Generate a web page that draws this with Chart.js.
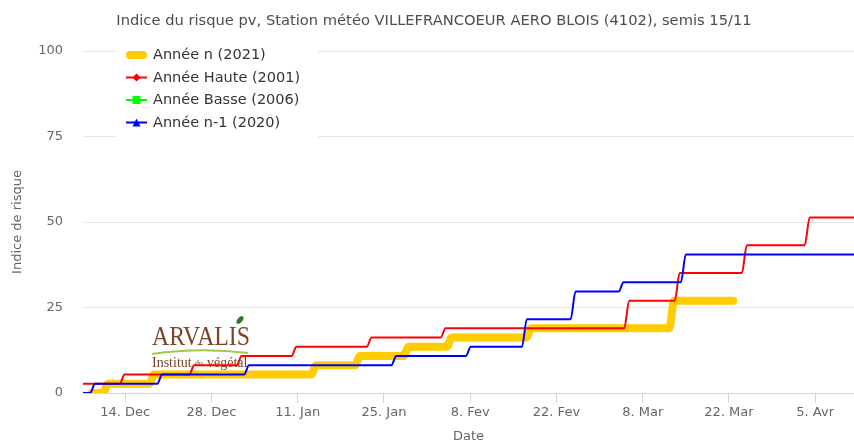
<!DOCTYPE html>
<html>
<head>
<meta charset="utf-8">
<script src="https://cdn.jsdelivr.net/npm/chart.js"></script>
<style>
  html, body { margin: 0; padding: 0; background: #fff; }
  #wrap { width: 854px; height: 442px; }
</style>
</head>
<body>
<div id="wrap"><canvas id="riskChart"></canvas></div>
<script>
// x values are days counted from 14 Dec
const tickDays = [0, 14, 28, 42, 56, 70, 84, 98, 112];
const tickLabels = ['14. Dec', '28. Dec', '11. Jan', '25. Jan', '8. Fev', '22. Fev', '8. Mar', '22. Mar', '5. Avr'];
const seriesNames = ['Année n (2021)', 'Année Haute (2001)', 'Année Basse (2006)', 'Année n-1 (2020)'];

// first entry = start day, then the day of each step; levels = value after each step
const yearNSteps = [-5.4, -3.2, 4.3, 30.6, 37.7, 45.6, 52.6, 65.5, 88.7];
const yearNLevels = [0, 2.7, 5.4, 8.1, 10.8, 13.5, 16.2, 18.9, 27];
const yearNEnd = 98.7;

const highSteps = [-7, -0.5, 10.8, 18.5, 27.4, 39.6, 51.6, 81.4, 89.6, 100.5, 110.7];
const highLevels = [2.7, 5.4, 8.1, 10.8, 13.5, 16.2, 18.9, 27, 35.1, 43.2, 51.3];
const highEnd = 119;

const lowSteps = [];
const lowLevels = [];
const lowEnd = null;

const prevSteps = [-7, -5.3, 5.6, 19.7, 43.6, 55.7, 64.8, 72.7, 80.5, 90.6];
const prevLevels = [0, 2.7, 5.4, 8.1, 10.8, 13.5, 21.6, 29.7, 32.4, 40.5];
const prevEnd = 119;

function stepPoints(steps, levels, end) {
  if (!steps.length) return [];
  const pts = [{ x: steps[0], y: levels[0] }];
  for (let i = 1; i < steps.length; i++) {
    pts.push({ x: steps[i] - 0.4, y: levels[i - 1] });
    pts.push({ x: steps[i] + 0.4, y: levels[i] });
  }
  pts.push({ x: end, y: levels[levels.length - 1] });
  return pts;
}

const FONT = 'DejaVu Sans';

const logoPlugin = {
  id: 'logo',
  beforeDatasetsDraw(chart) {
    const ctx = chart.ctx;
    ctx.save();
    // ARVALIS
    ctx.font = '27px "Liberation Serif"';
    ctx.fillStyle = '#7a4527';
    ctx.textBaseline = 'alphabetic';
    let w = ctx.measureText('ARVALIS').width;
    ctx.save();
    ctx.translate(152, 345);
    ctx.scale(98 / w, 1);
    ctx.fillText('ARVALIS', 0, 0);
    ctx.restore();
    // leaf
    ctx.fillStyle = '#2f7a2a';
    ctx.beginPath();
    ctx.ellipse(240, 320, 2.5, 4.5, 0.7, 0, Math.PI * 2);
    ctx.fill();
    // swoosh
    ctx.strokeStyle = '#a3c94a';
    ctx.lineWidth = 2;
    ctx.beginPath();
    ctx.moveTo(152, 354);
    ctx.quadraticCurveTo(200, 347, 248, 353);
    ctx.stroke();
    // Institut du végétal
    ctx.fillStyle = '#7a4527';
    ctx.font = '14px "Liberation Serif"';
    ctx.fillText('Institut', 152, 367);
    ctx.font = '8px "Liberation Serif"';
    ctx.fillText('du', 195, 366);
    ctx.font = '14px "Liberation Serif"';
    ctx.fillText('végétal', 207, 367);
    ctx.restore();
  }
};

const legendPlugin = {
  id: 'innerLegend',
  afterDraw(chart) {
    const ctx = chart.ctx;
    ctx.save();
    ctx.fillStyle = '#ffffff';
    ctx.fillRect(116, 40, 202, 98);
    chart.data.datasets.forEach((ds, i) => {
      const cy = 55 + i * 22.5;
      ctx.strokeStyle = ds.borderColor;
      ctx.fillStyle = ds.borderColor;
      if (ds.legendMarker === 'band') {
        ctx.lineWidth = 8;
        ctx.lineCap = 'round';
        ctx.beginPath();
        ctx.moveTo(130, cy);
        ctx.lineTo(143, cy);
        ctx.stroke();
      } else {
        ctx.lineWidth = 2;
        ctx.lineCap = 'butt';
        ctx.beginPath();
        ctx.moveTo(126, cy);
        ctx.lineTo(147, cy);
        ctx.stroke();
        const mx = 136.5;
        ctx.beginPath();
        if (ds.legendMarker === 'diamond') {
          ctx.moveTo(mx, cy - 4); ctx.lineTo(mx + 4, cy); ctx.lineTo(mx, cy + 4); ctx.lineTo(mx - 4, cy);
        } else if (ds.legendMarker === 'square') {
          ctx.rect(mx - 4, cy - 4, 8, 8);
        } else {
          ctx.moveTo(mx, cy - 4); ctx.lineTo(mx + 4, cy + 4); ctx.lineTo(mx - 4, cy + 4);
        }
        ctx.closePath();
        ctx.fill();
      }
      ctx.fillStyle = '#333333';
      ctx.font = '14.5px "' + FONT + '"';
      ctx.textBaseline = 'middle';
      ctx.textAlign = 'left';
      ctx.fillText(seriesNames[i], 153, cy + 0.5);
    });
    ctx.restore();
  }
};

const ctx = document.getElementById('riskChart').getContext('2d');

const data = {
  datasets: [
    {
      label: seriesNames[0],
      data: stepPoints(yearNSteps, yearNLevels, yearNEnd),
      borderColor: '#ffcc00',
      borderWidth: 8,
      borderCapStyle: 'round',
      legendMarker: 'band',
      clip: 0,
      order: 4
    },
    {
      label: seriesNames[1],
      data: stepPoints(highSteps, highLevels, highEnd),
      borderColor: '#ff0000',
      borderWidth: 2,
      legendMarker: 'diamond',
      order: 3
    },
    {
      label: seriesNames[2],
      data: stepPoints(lowSteps, lowLevels, lowEnd),
      borderColor: '#00ff00',
      borderWidth: 2,
      legendMarker: 'square',
      order: 2
    },
    {
      label: seriesNames[3],
      data: stepPoints(prevSteps, prevLevels, prevEnd),
      borderColor: '#0000ff',
      borderWidth: 2,
      legendMarker: 'triangle',
      order: 1
    }
  ]
};

const config = {
  type: 'line',
  data: data,
  options: {
    responsive: true,
    maintainAspectRatio: false,
    animation: false,
    layout: { padding: { left: 14, right: 0, top: 0, bottom: 0 } },
    elements: {
      point: { radius: 0, hoverRadius: 0 },
      line: { cubicInterpolationMode: 'monotone', borderJoinStyle: 'round' }
    },
    scales: {
      x: {
        type: 'linear',
        min: -6.85,
        max: 118.3,
        afterBuildTicks: (scale) => { scale.ticks = tickDays.map(v => ({ value: v })); },
        afterFit: (scale) => { scale.height = 49; },
        ticks: {
          autoSkip: false,
          maxRotation: 0,
          color: '#666666',
          font: { family: FONT, size: 13 },
          padding: 2,
          callback: (value) => tickLabels[tickDays.indexOf(value)]
        },
        grid: { drawOnChartArea: false, drawTicks: true, tickLength: 10, color: '#ccd6eb' },
        border: { color: '#ccd6eb', width: 1 },
        title: {
          display: true,
          text: 'Date',
          color: '#666666',
          font: { family: FONT, size: 13, lineHeight: 0.8 },
          padding: { top: 0, bottom: 0 }
        }
      },
      y: {
        min: 0,
        max: 100,
        afterFit: (scale) => { scale.width = 69; },
        ticks: {
          stepSize: 25,
          color: '#666666',
          font: { family: FONT, size: 13 },
          padding: 20
        },
        grid: { color: '#e6e6e6', drawTicks: false },
        border: { display: false },
        title: {
          display: true,
          text: 'Indice de risque',
          color: '#666666',
          font: { family: FONT, size: 13 },
          padding: { top: -3.8, bottom: 0 }
        }
      }
    },
    plugins: {
      legend: { display: false },
      tooltip: { enabled: false },
      title: {
        display: true,
        text: 'Indice du risque pv, Station météo VILLEFRANCOEUR AERO BLOIS (4102), semis 15/11',
        color: '#4d4d4d',
        font: { family: FONT, size: 14.7, weight: 'normal' },
        padding: { top: 12.5, bottom: 20.86 }
      }
    }
  },
  plugins: [logoPlugin, legendPlugin]
};

const riskChart = new Chart(ctx, config);
</script>
</body>
</html>
